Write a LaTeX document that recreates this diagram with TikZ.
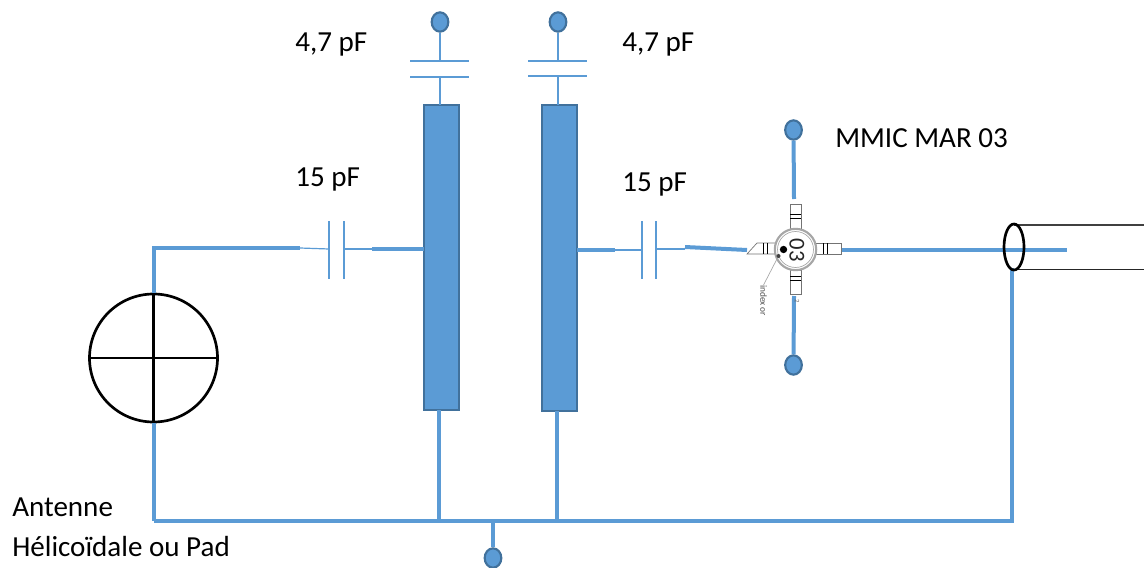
\documentclass[tikz,border=0pt]{standalone}
\usepackage{fontspec}
\setmainfont{Carlito}
\definecolor{wire}{HTML}{5B9BD5}
\definecolor{wireedge}{HTML}{41719C}
\definecolor{leadgray}{HTML}{A6A6A6}
\tikzset{
  x=0.75pt,y=-0.75pt,
  thick wire/.style={draw=wire,line width=3pt},
  thin wire/.style={draw=wire,line width=0.9pt},
  plate/.style={draw=wire,line width=0.9pt},
  terminal/.style={ellipse,draw=wireedge,fill=wire,line width=1.6pt,minimum width=12.5pt,minimum height=14.5pt,inner sep=0pt},
  resonator/.style={rectangle,draw=wireedge,fill=wire,line width=1.6pt,minimum width=26pt,inner sep=0pt},
  label text/.style={anchor=west,inner sep=0pt,font=\fontsize{21.8}{26}\selectfont},
  lead/.style={draw=black!55,fill=white,line width=0.5pt},
}
\usetikzlibrary{shapes.geometric}
\begin{document}
\begin{tikzpicture}
\useasboundingbox (0,0) rectangle (1144,567);

% coax
\node[ellipse,minimum width=15pt,minimum height=36pt,inner sep=0pt] (coax) at (1014,247) {};
\coordinate (coaxT) at (1014,225);
\coordinate (coaxB) at (1014,269.5);
\coordinate (coaxTE) at (1144,225);
\coordinate (coaxBE) at (1144,269.5);
\coordinate (inner) at (1067,250);
\coordinate (coaxG) at (1012,270);
\draw[black!75,line width=1pt] (coaxT) -- (coaxTE);
\draw[black!85,line width=1pt] (coaxB) -- (coaxBE);

% resonators
\node[resonator,minimum height=229pt] (r1) at (441.5,257.5) {};
\node[resonator,minimum height=229.5pt] (r2) at (559.5,258) {};

% bus
\coordinate (busL) at (153.5,521);
\coordinate (busR) at (1012,521);
\coordinate (bus1) at (439,521);
\coordinate (bus2) at (557,521);
\coordinate (bus3) at (493,521);
\draw[thick wire] (busL) -- (busR);
\draw[thick wire,line cap=rect] (busR) -- (coaxG);
\draw[thick wire] (bus1) -- (439,410);
\draw[thick wire] (bus2) -- (557,411);
\node[terminal] (tb) at (493,558) {};
\draw[thick wire] (bus3) -- (tb);

% antenna
\node[circle,draw=black,line width=2pt,minimum size=96pt,inner sep=0pt] (ant) at (153.5,358) {};
\draw[black,line width=2pt] (ant.north) -- (ant.south);
\draw[black,line width=2pt] (ant.west) -- (ant.east);
\coordinate (corner) at (153.5,248);
\coordinate (c1L) at (300,248);
\draw[thick wire] (ant.south) -- (busL);
\draw[thick wire,line join=miter] (ant.north) -- (corner) -- (c1L);

% series cap 1
\coordinate (p1a) at (329,249);
\coordinate (p1b) at (344,249);
\coordinate (c1R) at (372,249);
\draw[thin wire] (c1L) -- (p1a);
\draw[plate] (329,221) -- (329,279);
\draw[plate] (344,221) -- (344,279);
\draw[thin wire] (p1b) -- (c1R);
\draw[thick wire] (c1R) -- (424,249);

% top caps
\node[terminal] (t1) at (440,22) {};
\node[terminal] (t2) at (558,22) {};
\coordinate (a1) at (440,61);
\coordinate (b1) at (440,77);
\coordinate (a2) at (558,61);
\coordinate (b2) at (558,76);
\draw[thin wire] (t1) -- (a1);
\draw[thin wire] (b1) -- (440,105);
\draw[thin wire] (t2) -- (a2);
\draw[thin wire] (b2) -- (558,105);
\draw[plate] (410,61) -- (469,61);
\draw[plate] (410,77) -- (469,77);
\draw[plate] (528,61) -- (587,61);
\draw[plate] (528,76) -- (587,76);

% series cap 2
\coordinate (c2L) at (615,250);
\coordinate (p2a) at (642,250);
\coordinate (p2b) at (656,249);
\coordinate (c2R) at (685,249);
\coordinate (c2T) at (685,247);
\draw[thick wire] (577,250) -- (c2L);
\draw[thin wire] (c2L) -- (p2a);
\draw[plate] (642,221) -- (642,279);
\draw[plate] (656,221) -- (656,279);
\draw[thin wire] (p2b) -- (c2R);
\draw[thick wire] (c2T) -- (747,250);

% MMIC wires
\node[terminal] (tt) at (793.5,130) {};
\node[terminal] (tbm) at (793.5,365) {};
\coordinate (mT) at (794,199);
\coordinate (mB) at (794,296);
\coordinate (mR) at (841,250);
\draw[thick wire] (tt) -- (mT);
\draw[thick wire] (mB) -- (tbm);
\draw[thick wire] (mR) -- (inner);

% coax outline over wire
\draw[black,line width=2pt] (coax.center) ellipse (10 and 23);

% MMIC body
\draw[lead] (790,204) rectangle (801,230);
\draw[lead] (790,270) rectangle (801,294);
\draw[lead] (815,243) rectangle (841,254);
\draw[lead] (775,243) -- (757,243) -- (747,254) -- (775,254);
\foreach \a in {0,4}{
  \draw[black,line width=0.6pt] (790,214+\a) -- (801,214+\a);
  \draw[black,line width=0.6pt] (790,276+\a) -- (801,276+\a);
  \draw[black,line width=0.6pt] (823+\a,243) -- (823+\a,254);
  \draw[black,line width=0.6pt] (763+\a,243) -- (763+\a,254);
}
\node[circle,draw=leadgray,fill=white,line width=1.6pt,minimum size=31pt,inner sep=0pt] (chip) at (795.5,249.5) {};
\draw[leadgray,line width=0.5pt] (chip.center) circle (18);
\node[rotate=-90,inner sep=0pt,font=\fontsize{17}{19}\selectfont,text=black!85] (mark) at (797,250) {03};
\node[circle,fill=black,minimum size=5.5pt,inner sep=0pt] (dot) at (783.5,249.5) {};
\node[circle,fill=black!75,minimum size=3pt,inner sep=0pt] (arrowtip) at (778.5,256) {};
\node[rotate=-90,inner sep=0pt,anchor=west,font=\fontsize{7}{8}\selectfont,text=black!70] (idx) at (763.5,285) {index or};
\draw[black!35,line width=0.5pt] (arrowtip) -- (idx.west);
\node[rotate=-90,inner sep=0pt,font=\fontsize{5}{6}\selectfont,text=black!60] (pin) at (797,301) {2};

% labels
\node[label text] (l1) at (295,45) {4,7 pF};
\node[label text] (l2) at (622,45) {4,7 pF};
\node[label text] (l3) at (295,179) {15 pF};
\node[label text] (l4) at (622,184) {15 pF};
\node[label text] (l5) at (835,138) {MMIC MAR 03};
\node[label text] (l6) at (12,507) {Antenne};
\node[label text] (l7) at (12,547) {Hélicoïdale ou Pad};
\end{tikzpicture}
\end{document}
